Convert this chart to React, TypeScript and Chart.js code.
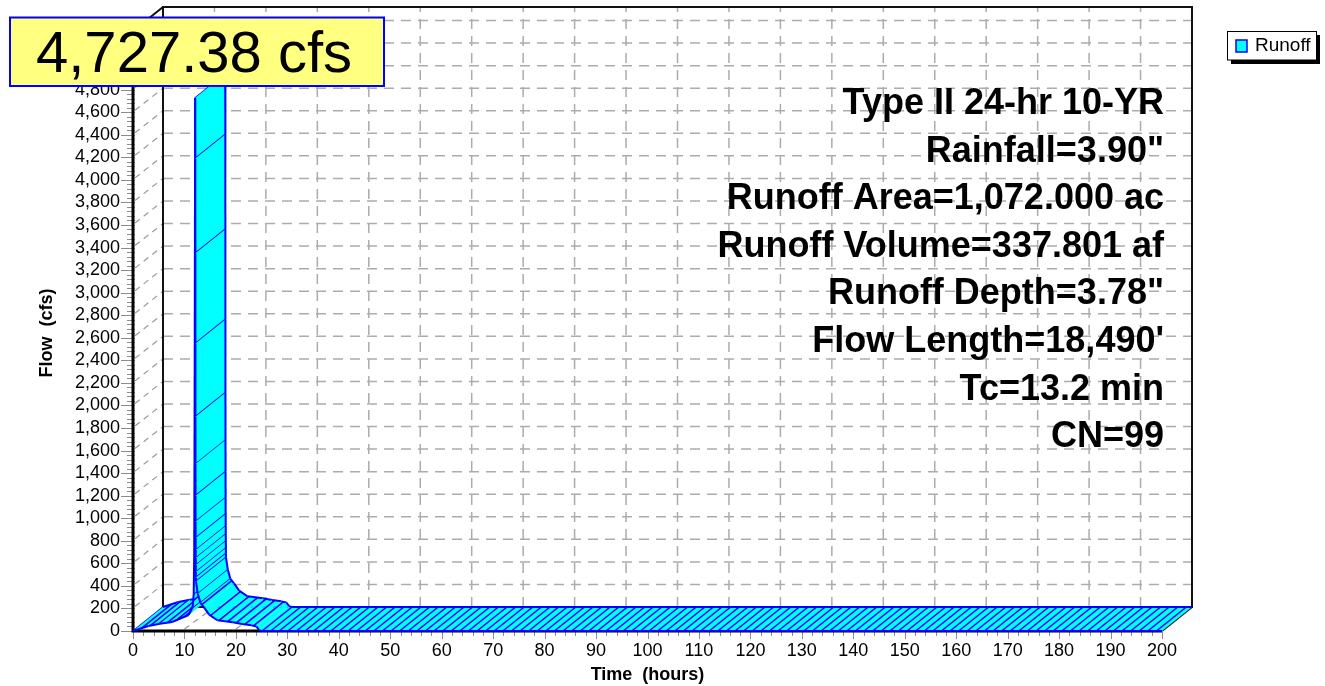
import React, { useEffect, useRef } from 'react';
import { Chart, registerables } from 'chart.js';

Chart.register(...registerables);

// ---------------- data ----------------
const timeHours: number[] = [
  0, 3, 5.2, 7.6, 10.8, 11.6, 11.8, 11.9, 11.95, 12.0, 12.05, 12.1,
  12.11, 12.12, 12.13, 12.14, 12.15, 12.16, 12.17, 12.18, 12.19, 12.2, 12.21, 12.22, 12.23, 12.24,
  12.6, 13.1, 13.8, 14.8, 16.4, 19.4, 21.2, 23.0, 24.0, 24.5, 25, 200,
];
const runoffCfs: number[] = [
  0, 44, 65, 80, 142, 210, 330, 700, 1500, 2600, 3800, 4727.38,
  4190, 3350, 2550, 1900, 1480, 1200, 970, 825, 718, 647, 585, 523, 475, 440,
  330, 250, 210, 145, 95, 78, 62, 50, 40, 8, 0, 0,
];

const X_MIN = 0;
const X_MAX = 200;
const X_STEP = 10;
const X_MINOR = 2;
const Y_MIN = 0;
const Y_MAX = 5320;
const Y_STEP = 200;
const Y_MINOR = 40;

const X_TITLE = 'Time  (hours)';
const Y_TITLE = 'Flow  (cfs)';
const SERIES_NAME = 'Runoff';
const INFO_LINES: string[] = [
  'Type II 24-hr 10-YR',
  'Rainfall=3.90"',
  'Runoff Area=1,072.000 ac',
  'Runoff Volume=337.801 af',
  'Runoff Depth=3.78"',
  "Flow Length=18,490'",
  'Tc=13.2 min',
  'CN=99',
];

// ---------------- style ----------------
const FONT = '"Liberation Sans", Arial, Helvetica, sans-serif';
const CYAN = '#00ffff';
const BLUE = '#0000ff';
const GRID = '#acacac';
const DX = 30;
const DY = 24;
const HATCH = 8.6;

const fmt = (v: number) => Number(v).toLocaleString('en-US');
const peakValue = Math.max(...runoffCfs);
const PEAK_LABEL = `${peakValue.toLocaleString('en-US', { minimumFractionDigits: 2, maximumFractionDigits: 2 })} cfs`;

function line(ctx: CanvasRenderingContext2D, ax: number, ay: number, bx: number, by: number) {
  ctx.beginPath();
  ctx.moveTo(ax, ay);
  ctx.lineTo(bx, by);
  ctx.stroke();
}

const scenePlugin = {
  id: 'hydro3d',
  beforeDatasetsDraw(chart: any) {
    const ctx: CanvasRenderingContext2D = chart.ctx;
    const xs = chart.scales.x;
    const ys = chart.scales.y;
    const X = (v: number) => xs.getPixelForValue(v);
    const Y = (v: number) => ys.getPixelForValue(v);
    const x0 = X(X_MIN);
    const x1 = X(X_MAX);
    const y0 = Y(Y_MIN);
    const yT = Y(Y_MAX);

    ctx.save();
    ctx.lineCap = 'butt';

    // back wall grid
    ctx.strokeStyle = GRID;
    ctx.lineWidth = 1.5;
    ctx.setLineDash([10, 7]);
    for (let t = X_MIN + X_STEP; t < X_MAX; t += X_STEP) {
      line(ctx, X(t) + DX, y0 - DY, X(t) + DX, yT - DY);
    }
    for (let v = Y_MIN + Y_STEP; v <= Y_MAX; v += Y_STEP) {
      line(ctx, x0 + DX, Y(v) - DY, x1 + DX, Y(v) - DY);
    }
    // side wall and floor diagonals
    ctx.strokeStyle = '#9a9a9a';
    ctx.lineWidth = 1.2;
    ctx.setLineDash([6, 5]);
    for (let v = Y_MIN + Y_STEP; v <= Y_MAX; v += Y_STEP) {
      line(ctx, x0 + 2, Y(v) - 2, x0 + DX, Y(v) - DY);
    }
    for (let t = X_MIN + X_STEP; t < X_MAX; t += X_STEP) {
      line(ctx, X(t), y0 - 2, X(t) + DX, y0 - DY);
    }
    ctx.setLineDash([]);

    // frame
    ctx.strokeStyle = '#111';
    ctx.lineWidth = 2;
    ctx.strokeRect(x0 + DX, yT - DY, x1 - x0, y0 - yT);
    line(ctx, x0, yT, x0 + DX, yT - DY);
    line(ctx, x1, y0, x1 + DX, y0 - DY);

    // ticks
    ctx.strokeStyle = '#8c8c8c';
    ctx.lineWidth = 1;
    for (let k = 0; k * Y_MINOR <= Y_MAX; k++) {
      const v = k * Y_MINOR;
      const len = v % Y_STEP === 0 ? 12 : 6;
      line(ctx, x0 - len, Math.round(Y(v)) + 0.5, x0 + 2, Math.round(Y(v)) + 0.5);
    }
    for (let k = 0; k * X_MINOR <= X_MAX; k++) {
      const t = k * X_MINOR;
      const len = t % X_STEP === 0 ? 8 : 5;
      line(ctx, Math.round(X(t)) + 0.5, y0 + 1, Math.round(X(t)) + 0.5, y0 + len);
    }

    // front axes
    ctx.strokeStyle = '#000';
    ctx.lineWidth = 3;
    ctx.beginPath();
    ctx.moveTo(x0, yT);
    ctx.lineTo(x0, y0);
    ctx.lineTo(x1, y0);
    ctx.stroke();

    // ribbon
    const pts = timeHours.map((t, i) => ({ x: X(t), y: Y(runoffCfs[i]) }));
    const n = pts.length;
    const steep = (i: number) => {
      const a = pts[i];
      const check = (b: any) => b && Math.abs(b.y - a.y) > 3 * Math.abs(b.x - a.x);
      return check(pts[i - 1]) || check(pts[i + 1]);
    };
    ctx.lineJoin = 'round';
    ctx.strokeStyle = BLUE;
    ctx.lineWidth = 1.6;
    line(ctx, pts[0].x, pts[0].y, pts[0].x + DX, pts[0].y - DY);
    for (let i = 0; i < n - 1; i++) {
      const a = pts[i];
      const b = pts[i + 1];
      ctx.beginPath();
      ctx.moveTo(a.x, a.y);
      ctx.lineTo(b.x, b.y);
      ctx.lineTo(b.x + DX, b.y - DY);
      ctx.lineTo(a.x + DX, a.y - DY);
      ctx.closePath();
      ctx.fillStyle = CYAN;
      ctx.fill();

      ctx.strokeStyle = BLUE;
      ctx.lineWidth = 1.6;
      if (b.x - a.x > 0.01) {
        let k = Math.floor((a.x - x0) / HATCH) + 1;
        for (; x0 + k * HATCH < b.x; k++) {
          const x = x0 + k * HATCH;
          const y = a.y + ((x - a.x) / (b.x - a.x)) * (b.y - a.y);
          line(ctx, x, y, x + DX, y - DY);
        }
      }
      if (i + 1 < n - 1 && steep(i + 1)) {
        line(ctx, b.x, b.y, b.x + DX, b.y - DY);
      }
      ctx.lineWidth = 2;
      line(ctx, a.x, a.y, b.x, b.y);
      line(ctx, a.x + DX, a.y - DY, b.x + DX, b.y - DY);
    }
    ctx.restore();
  },
  afterDraw(chart: any) {
    const ctx: CanvasRenderingContext2D = chart.ctx;
    const area = chart.chartArea;
    ctx.save();
    ctx.fillStyle = '#000';
    ctx.textBaseline = 'middle';
    ctx.textAlign = 'center';

    // axis titles
    ctx.font = `bold 18px ${FONT}`;
    ctx.fillText(X_TITLE, (area.left + area.right) / 2, 675);
    ctx.save();
    ctx.translate(47, (area.top + area.bottom) / 2 + 2);
    ctx.rotate(-Math.PI / 2);
    ctx.fillText(Y_TITLE, 0, 0);
    ctx.restore();

    // info block
    ctx.font = `bold 36px ${FONT}`;
    ctx.textAlign = 'right';
    INFO_LINES.forEach((s, i) => ctx.fillText(s, area.right + 2, 104 + i * 47.6));

    // peak label box
    ctx.fillStyle = '#ffff80';
    ctx.fillRect(10, 17.5, 374, 68.5);
    ctx.strokeStyle = BLUE;
    ctx.lineWidth = 2;
    ctx.strokeRect(10, 17.5, 374, 68.5);
    ctx.fillStyle = '#000';
    ctx.font = `58px ${FONT}`;
    ctx.textAlign = 'center';
    ctx.textBaseline = 'alphabetic';
    ctx.fillText(PEAK_LABEL, 194, 72);

    // legend
    ctx.fillStyle = '#000';
    ctx.fillRect(1231, 35, 89, 29);
    ctx.fillStyle = '#fff';
    ctx.fillRect(1227.5, 31.5, 89, 28.5);
    ctx.strokeStyle = '#000';
    ctx.lineWidth = 1;
    ctx.strokeRect(1227.5, 31.5, 89, 28.5);
    ctx.fillStyle = CYAN;
    ctx.fillRect(1236, 40, 11, 12);
    ctx.strokeStyle = BLUE;
    ctx.lineWidth = 1.5;
    ctx.strokeRect(1236, 40, 11, 12);
    ctx.fillStyle = '#000';
    ctx.font = `19px ${FONT}`;
    ctx.textAlign = 'left';
    ctx.textBaseline = 'middle';
    ctx.fillText(SERIES_NAME, 1255, 46);
    ctx.restore();
  },
};

export default function App() {
  const ref = useRef<HTMLCanvasElement>(null);
  useEffect(() => {
    const canvas = ref.current;
    if (!canvas) return;
    const chart = new Chart(canvas, {
      type: 'scatter',
      data: {
        datasets: [
          {
            label: SERIES_NAME,
            data: timeHours.map((t, i) => ({ x: t, y: runoffCfs[i] })),
            showLine: false,
            pointRadius: 0,
            backgroundColor: CYAN,
            borderColor: BLUE,
          },
        ],
      },
      options: {
        responsive: false,
        animation: false,
        events: [],
        layout: { padding: { left: 0, right: 163, top: 31, bottom: 0 } },
        plugins: {
          legend: { display: false },
          tooltip: { enabled: false },
          title: { display: false },
        },
        scales: {
          x: {
            type: 'linear',
            min: X_MIN,
            max: X_MAX,
            afterFit: (s: any) => {
              s.height = 55;
            },
            grid: { display: false, drawTicks: false },
            border: { display: false },
            ticks: {
              stepSize: X_STEP,
              autoSkip: false,
              maxRotation: 0,
              padding: 9,
              color: '#000',
              font: { family: FONT, size: 18 },
            },
          },
          y: {
            type: 'linear',
            min: Y_MIN,
            max: Y_MAX,
            afterFit: (s: any) => {
              s.width = 133;
            },
            grid: { display: false, drawTicks: false },
            border: { display: false },
            ticks: {
              stepSize: Y_STEP,
              includeBounds: false,
              autoSkip: false,
              padding: 13,
              color: '#000',
              font: { family: FONT, size: 18 },
              callback: (v: any) => fmt(v),
            },
          },
        },
      } as any,
      plugins: [scenePlugin],
    });
    return () => chart.destroy();
  }, []);
  return (
    <canvas
      ref={ref}
      width={1325}
      height={686}
      style={{ position: 'fixed', left: 0, top: 0, width: 1325, height: 686 }}
    />
  );
}
